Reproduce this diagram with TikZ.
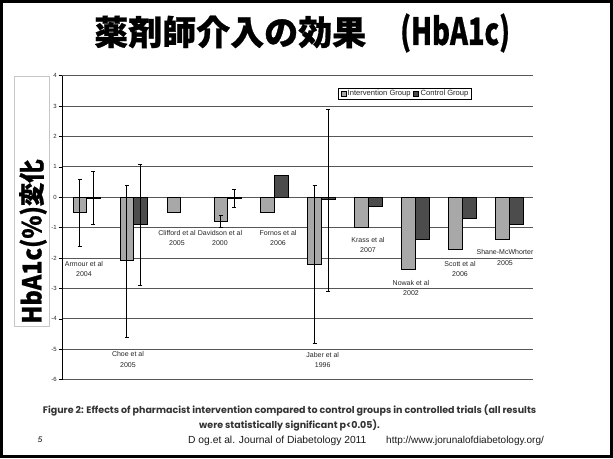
\documentclass[tikz,border=0pt]{standalone}
\usepackage{fontspec}
\setmainfont{Liberation Sans}
\newfontfamily\jpfont{Noto Sans CJK JP}[BoldFeatures={FakeBold=0.8}]
\newfontfamily\capfont{Poppins}
\definecolor{ibarc}{gray}{0.66}
\definecolor{cbarc}{gray}{0.30}
\definecolor{gridc}{gray}{0.34}
\begin{document}
\begin{tikzpicture}[x=1pt,y=-1pt,
  lab/.style={font=\fontsize{7}{10.3}\selectfont, align=center, text=black!85, inner sep=0},
  ticklab/.style={font=\fontsize{6}{6}\selectfont, anchor=east, inner sep=0, text=black!85},
  ibar/.style={fill=ibarc, draw=black, line width=0.8pt},
  cbar/.style={fill=cbarc, draw=black, line width=0.8pt},
  err/.style={line width=0.7pt},
  legtext/.style={font=\fontsize{7.6}{8}\selectfont, anchor=west, inner sep=0, text=black!85},
  foot/.style={font=\fontsize{10.3}{11}\selectfont, anchor=west, inner sep=0, text=black!90},
]
\useasboundingbox (0,0) rectangle (613,458);
\fill[white] (0,0) rectangle (613,458);
\draw[line width=2.6pt] (1.3,1.3) rectangle (611.7,456.7);

% title
\node[font=\jpfont\bfseries\fontsize{34}{40}\selectfont, inner sep=0, anchor=west] (title) at (94,33)
  {薬剤師介入の効果　\scalebox{0.8}[1.1]{(HbA1c)}};

% y label
\draw[gray!45, line width=0.6pt] (14,76) rectangle (49,326);
\node[rotate=90, font=\jpfont\bfseries\fontsize{26}{28}\selectfont, inner sep=0] (ylab) at (33,241.5)
  {\scalebox{0.9}[1]{HbA1c(\%)変化}};

% chart
\begin{scope}[shift={(0,197.3)}, y=30.4pt]
  \foreach \v in {-6,...,4}{
    \draw[gridc, line width=1.1pt] (62,\v) -- (533,\v);
    \draw[line width=0.6pt] (58.5,\v) -- (62,\v);
    \node[ticklab] (t\v) at (57,\v) {\v};
  }
  \draw[line width=0.8pt] (62,-6) -- (62,4);
  \foreach \i/\a/\b in {0/-0.5/-0.04,1/-2.08/-0.89,3/-0.78/-0.04,4/-0.5/0.71,5/-2.2/-0.08,6/-1.0/-0.3,7/-2.37/-1.4,8/-1.7/-0.68,9/-1.4/-0.89}{
    \pgfmathsetmacro\L{73+46.97*\i}
    \draw[ibar] (\L,0) rectangle ({\L+13.6},\a);
    \draw[cbar] ({\L+13.6},0) rectangle ({\L+27.2},\b);
  }
  \draw[ibar] (166.94,0) rectangle (180.54,-0.5);
  \foreach \x/\t/\b in {79.8/0.6/-1.6, 93.4/0.85/-0.9, 126.8/0.4/-4.6, 140.4/1.1/-2.9,
                        220.7/-0.6/-1.0, 234.3/0.27/-0.33, 314.6/0.4/-4.8, 328.2/2.9/-3.1}{
    \draw[err] (\x,\t) -- (\x,\b);
    \draw[err] (\x-2,\t) -- (\x+2,\t);
    \draw[err] (\x-2,\b) -- (\x+2,\b);
  }
\end{scope}

% category labels
\node[lab] (armour) at (84,269) {Armour et al\\2004};
\node[lab] (choe) at (128,359.5) {Choe et al\\2005};
\node[lab] (clifford) at (177,238) {Clifford et al\\2005};
\node[lab] (davidson) at (220,238) {Davidson et al\\2000};
\node[lab] (fornos) at (278,238) {Fornos et al\\2006};
\node[lab] (jaber) at (322.7,360) {Jaber et al\\1996};
\node[lab] (krass) at (368,245) {Krass et al\\2007};
\node[lab] (nowak) at (411,288) {Nowak et al\\2002};
\node[lab] (scott) at (460,269) {Scott et al\\2006};
\node[lab] (shane) at (505,257.5) {Shane-McWhorter\\2005};

% legend
\node[draw, line width=0.7pt, minimum width=133.4pt, minimum height=11pt, inner sep=0] (legend) at (405,93.8) {};
\draw[fill=ibarc, line width=0.6pt] (341,91.3) rectangle (346,96.3);
\node[legtext] (legI) at (347.5,93.8) {Intervention Group};
\draw[fill=cbarc, line width=0.6pt] (413.5,91.3) rectangle (418.5,96.3);
\node[legtext] (legC) at (420.5,93.8) {Control Group};

% caption
\node[font=\capfont\bfseries\fontsize{9.5}{15}\selectfont, align=center, text=black!80, inner sep=0] (cap) at (289.5,417.5)
  {Figure 2: Effects of pharmacist intervention compared to control groups in controlled trials (all results\\were statistically significant p<0.05).};

% footer
\node[font=\itshape\fontsize{8}{9}\selectfont, inner sep=0] (pg) at (40,440) {5};
\node[foot] (src) at (188,441) {D og.et al. Journal of Diabetology 2011};
\node[foot, font=\fontsize{10}{11}\selectfont] (url) at (386,441) {http://www.jorunalofdiabetology.org/};
\end{tikzpicture}
\end{document}
